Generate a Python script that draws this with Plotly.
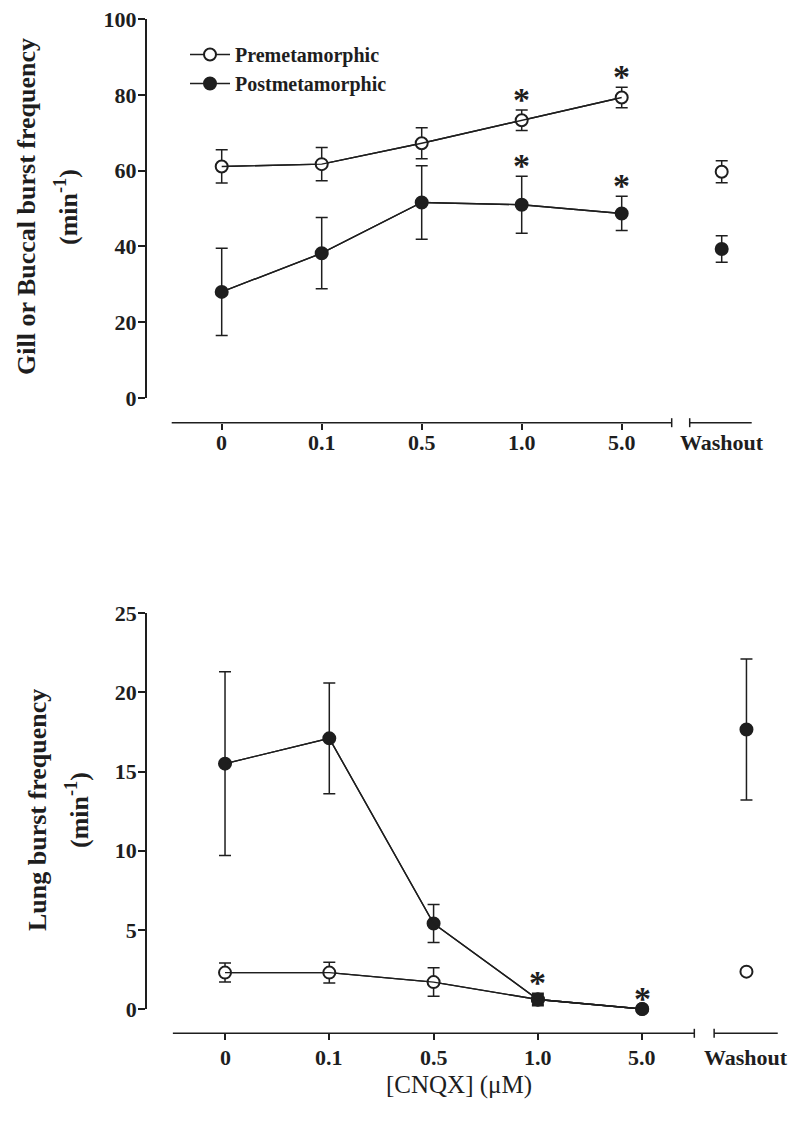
import plotly.graph_objects as go

# ---------------- data ----------------
categories = ["0", "0.1", "0.5", "1.0", "5.0"]
washout_label = "Washout"
series_names = ["Premetamorphic", "Postmetamorphic"]

# Gill / buccal burst frequency (min^-1)
gill_pre = [61.1, 61.7, 67.2, 73.3, 79.3]
gill_pre_err = [4.4, 4.4, 4.1, 2.7, 2.7]
gill_post = [28.0, 38.2, 51.6, 51.0, 48.7]
gill_post_err = [11.5, 9.4, 9.7, 7.5, 4.5]
gill_wash_pre = [59.7]
gill_wash_pre_err = [2.9]
gill_wash_post = [39.3]
gill_wash_post_err = [3.5]
gill_sig_pre = [3, 4]
gill_sig_post = [3, 4]

# Lung burst frequency (min^-1)
lung_pre = [2.3, 2.3, 1.7, 0.6, 0.0]
lung_pre_err = [0.6, 0.65, 0.9, 0.3, 0.0]
lung_post = [15.5, 17.1, 5.4, 0.6, 0.0]
lung_post_err = [5.8, 3.5, 1.2, 0.4, 0.0]
lung_wash_pre = [2.36]
lung_wash_pre_err = [0.0]
lung_wash_post = [17.66]
lung_wash_post_err = [4.45]
lung_sig_post = [3, 4]

# ---------------- style ----------------
INK = "#1e1e1e"
FONT = "Liberation Serif"
OFF = 8                      # page body margin of the html document
W, H = 800 - OFF, 1128 - OFF


def px(x):
    return (x - OFF) / W


def py(y):
    return 1 - (y - OFF) / H


xpos = list(range(len(categories)))
wash_x = [len(categories)]

fig = go.Figure()


def add_series(vals, errs, wvals, werrs, filled, name, xa, ya, showlegend):
    mk = dict(size=12, symbol="circle",
              color=INK if filled else "white",
              line=dict(color=INK, width=2))
    eb = dict(type="data", visible=True, color=INK, thickness=1.5, width=6)
    fig.add_trace(go.Scatter(
        x=xpos, y=vals, mode="lines+markers", name=name,
        marker=mk, line=dict(color=INK, width=1.4),
        error_y=dict(eb, array=errs), xaxis=xa, yaxis=ya,
        showlegend=showlegend, cliponaxis=False))
    fig.add_trace(go.Scatter(
        x=wash_x, y=wvals, mode="markers", name=name,
        marker=mk, error_y=dict(eb, array=werrs), xaxis=xa, yaxis=ya,
        showlegend=False, cliponaxis=False))


def add_lines(vals, xa, ya):
    fig.add_trace(go.Scatter(
        x=xpos, y=vals, mode="lines", line=dict(color=INK, width=1.4),
        xaxis=xa, yaxis=ya, showlegend=False, hoverinfo="skip",
        cliponaxis=False))


# top panel
add_series(gill_pre, gill_pre_err, gill_wash_pre, gill_wash_pre_err,
           False, series_names[0], "x", "y", True)
add_series(gill_post, gill_post_err, gill_wash_post, gill_wash_post_err,
           True, series_names[1], "x", "y", True)
add_lines(gill_pre, "x", "y")
add_lines(gill_post, "x", "y")

# bottom panel
add_series(lung_pre, lung_pre_err, lung_wash_pre, lung_wash_pre_err,
           False, series_names[0], "x2", "y2", False)
add_series(lung_post, lung_post_err, lung_wash_post, lung_wash_post_err,
           True, series_names[1], "x2", "y2", False)
add_lines(lung_pre, "x2", "y2")
add_lines(lung_post, "x2", "y2")

# ---------------- axes ----------------
top_xaxis_y = py(422.7)
bot_xaxis_y = py(1033.3)
tickfont = dict(family=FONT, size=22, color=INK, weight="bold")

common_x = dict(range=[-0.75, 5.5], showline=False, showgrid=False,
                zeroline=False, ticks="outside", ticklen=6, tickwidth=1.5,
                tickcolor=INK, tickvals=xpos, showticklabels=False,
                anchor="free", fixedrange=True, automargin=False)
common_y = dict(showline=True, linewidth=1.5, linecolor=INK, showgrid=False,
                zeroline=False, ticks="outside", ticklen=7, tickwidth=1.5,
                tickcolor=INK, tickfont=tickfont, fixedrange=True,
                automargin=False, ticklabelstandoff=-3,
                ticklabeloverflow="allow")

fig.update_layout(
    template="none",
    width=W, height=H,
    margin=dict(l=0, r=0, t=0, b=0, pad=0),
    paper_bgcolor="white", plot_bgcolor="white",
    font=dict(family=FONT, color=INK),
    xaxis=dict(common_x, domain=[px(146.7), px(771.7)], position=top_xaxis_y),
    yaxis=dict(common_y, domain=[py(398), py(19)], range=[0, 100],
               tickvals=[0, 20, 40, 60, 80, 100], anchor="x"),
    xaxis2=dict(common_x, domain=[px(146.8), px(798.6)], position=bot_xaxis_y),
    yaxis2=dict(common_y, domain=[py(1009), py(613.3)], range=[0, 25],
                tickvals=[0, 5, 10, 15, 20, 25], anchor="x2"),
    legend=dict(x=px(185), y=py(35), xanchor="left", yanchor="top",
                bgcolor="rgba(0,0,0,0)",
                font=dict(family=FONT, size=20, color=INK, weight="bold"),
                itemwidth=40, tracegroupgap=2),
    showlegend=True,
)

# broken x-axis lines
shapes = []
for xa, ypos, brk in (("x", top_xaxis_y, 4.68), ("x2", bot_xaxis_y, 4.69)):
    seg = [(-0.5, 4.5), (brk, 5.3)]
    for a, b in seg:
        shapes.append(dict(type="line", xref=xa, yref="paper", x0=a, x1=b,
                           y0=ypos, y1=ypos, line=dict(color=INK, width=1.5)))
    for bx in (4.5, brk):
        shapes.append(dict(type="line", xref=xa, yref="paper", x0=bx, x1=bx,
                           y0=ypos - 4.5 / H, y1=ypos + 4.5 / H,
                           line=dict(color=INK, width=1.5)))
fig.update_layout(shapes=shapes)

ann = []
# x tick labels (categories + washout)
for xa, ypix in (("x", 422.7 + 20), ("x2", 1033.3 + 24)):
    for xi, lab in zip(xpos + wash_x, categories + [washout_label]):
        ann.append(dict(x=xi, y=py(ypix), xref=xa, yref="paper",
                        text=lab, showarrow=False, xanchor="center",
                        yanchor="middle", font=tickfont))

# significance asterisks
star = dict(family=FONT, size=34, color=INK, weight="bold")
for vals, errs, sig, xa, ya in (
        (gill_pre, gill_pre_err, gill_sig_pre, "x", "y"),
        (gill_post, gill_post_err, gill_sig_post, "x", "y"),
        (lung_post, lung_post_err, lung_sig_post, "x2", "y2")):
    for i in sig:
        ann.append(dict(x=xpos[i], y=vals[i] + errs[i], xref=xa, yref=ya,
                        text="*", showarrow=False, xanchor="center",
                        yanchor="bottom", yshift=-10, font=star))

# axis titles
ytitle = dict(family=FONT, size=26, color=INK, weight="bold")
ttl = dict(xref="paper", yref="paper", showarrow=False, xanchor="center",
           yanchor="middle")
ann += [
    dict(ttl, x=px(26), y=py(207), text="Gill or Buccal burst frequency",
         textangle=-90, font=ytitle),
    dict(ttl, x=px(66), y=py(207), text="(min<sup>-1</sup>)",
         textangle=-90, font=ytitle),
    dict(ttl, x=px(37), y=py(810), text="Lung burst frequency",
         textangle=-90, font=ytitle),
    dict(ttl, x=px(77), y=py(810), text="(min<sup>-1</sup>)",
         textangle=-90, font=ytitle),
    dict(ttl, x=px(459), y=py(1085), text="[CNQX] (\u03bcM)",
         font=dict(family=FONT, size=25, color=INK)),
]
fig.update_layout(annotations=ann)

fig.write_html("out.html")
